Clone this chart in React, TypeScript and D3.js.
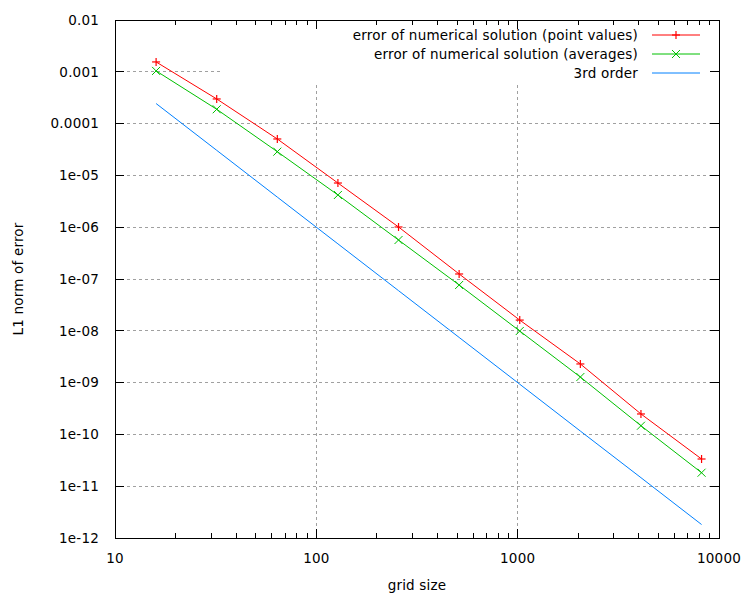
import * as d3 from 'd3'

// grid sizes and measured L1 errors
const gridSizes = [16, 32, 64, 128, 256, 512, 1024, 2048, 4096, 8192]
const errPoint = [1.55e-3, 2.99e-4, 5.05e-5, 7.13e-6, 1.01e-6, 1.25e-7, 1.61e-8, 2.29e-9, 2.48e-10, 3.35e-11]
const errAvg = [1.04e-3, 1.89e-4, 2.87e-5, 4.19e-6, 5.66e-7, 7.66e-8, 9.9e-9, 1.28e-9, 1.47e-10, 1.82e-11]
const thirdOrder = [2.44e-4, 3.05e-5, 3.81e-6, 4.77e-7, 5.96e-8, 7.45e-9, 9.31e-10, 1.16e-10, 1.46e-11, 1.82e-12]

const xTicks = [10, 100, 1000, 10000]
const xTickLabels = ['10', '100', '1000', '10000']
const yTicks = [1e-2, 1e-3, 1e-4, 1e-5, 1e-6, 1e-7, 1e-8, 1e-9, 1e-10, 1e-11, 1e-12]
const yTickLabels = ['0.01', '0.001', '0.0001', '1e-05', '1e-06', '1e-07', '1e-08', '1e-09', '1e-10', '1e-11', '1e-12']

const seriesNames = [
  'error of numerical solution (point values)',
  'error of numerical solution (averages)',
  '3rd order',
]

const W = 750
const H = 600
const L = 115
const R = 719
const T = 20
const B = 538
const FONT = '"DejaVu Sans", sans-serif'
const FS = 13.5
const LS = 0.2

const RED = '#ff0000'
const GREEN = '#00c000'
const BLUE = '#0080ff'
const GRID = '#a0a0a0'

export default function App() {
  const x = d3.scaleLog().domain([10, 10000]).range([L, R])
  const y = d3.scaleLog().domain([1e-12, 1e-2]).range([B, T])

  const minorX: number[] = []
  for (const dec of [10, 100, 1000]) for (let k = 2; k <= 9; k++) minorX.push(dec * k)

  const line = d3.line<[number, number]>().x(d => x(d[0])).y(d => y(d[1]))
  const pts = (vals: number[]) => gridSizes.map((n, i) => [n, vals[i]] as [number, number])

  // key box clears the grid behind it
  const keyLeft = 222
  const keyBottom = 82
  const keyTextX = 638
  const keyLine = [652, 700]
  const keyRows = [35, 54, 73]

  const plus = (cx: number, cy: number, c: string, k: string) => (
    <g key={k} stroke={c} strokeWidth={1.2}>
      <line x1={cx - 4} x2={cx + 4} y1={cy} y2={cy} />
      <line x1={cx} x2={cx} y1={cy - 4} y2={cy + 4} />
    </g>
  )
  const cross = (cx: number, cy: number, c: string, k: string) => (
    <g key={k} stroke={c} strokeWidth={1}>
      <line x1={cx - 4} x2={cx + 4} y1={cy - 4} y2={cy + 4} />
      <line x1={cx - 4} x2={cx + 4} y1={cy + 4} y2={cy - 4} />
    </g>
  )

  return (
    <div style={{ position: 'absolute', left: 0, top: 0 }}>
      <svg width={W} height={H} style={{ display: 'block', background: '#fff' }} fontFamily={FONT}>
        {/* grid */}
        <g stroke={GRID} strokeWidth={1} strokeDasharray="3,3" shapeRendering="crispEdges">
          {xTicks.slice(1, -1).map(t => (
            <line key={t} x1={x(t)} x2={x(t)} y1={B} y2={T} />
          ))}
          {yTicks.slice(1, -1).map(t => (
            <line key={t} x1={L} x2={R} y1={y(t)} y2={y(t)} />
          ))}
        </g>
        <rect x={keyLeft} y={T + 1} width={R - keyLeft - 1} height={keyBottom - T - 1} fill="#fff" />

        {/* series */}
        <path d={line(pts(thirdOrder)) ?? ''} fill="none" stroke={BLUE} strokeWidth={1} />
        <path d={line(pts(errAvg)) ?? ''} fill="none" stroke={GREEN} strokeWidth={1} />
        <path d={line(pts(errPoint)) ?? ''} fill="none" stroke={RED} strokeWidth={1} />
        {gridSizes.map((n, i) => cross(x(n), y(errAvg[i]), GREEN, 'g' + i))}
        {gridSizes.map((n, i) => plus(x(n), y(errPoint[i]), RED, 'r' + i))}

        {/* border and ticks */}
        <g stroke="#000" strokeWidth={1} shapeRendering="crispEdges">
          <rect x={L} y={T} width={R - L} height={B - T} fill="none" />
          {xTicks.map(t => (
            <g key={t}>
              <line x1={x(t)} x2={x(t)} y1={B} y2={B - 9} />
              <line x1={x(t)} x2={x(t)} y1={T} y2={T + 9} />
            </g>
          ))}
          {minorX.map(t => (
            <g key={t}>
              <line x1={x(t)} x2={x(t)} y1={B} y2={B - 5} />
              <line x1={x(t)} x2={x(t)} y1={T} y2={T + 5} />
            </g>
          ))}
          {yTicks.map(t => (
            <g key={t}>
              <line x1={L} x2={L + 9} y1={y(t)} y2={y(t)} />
              <line x1={R} x2={R - 9} y1={y(t)} y2={y(t)} />
            </g>
          ))}
        </g>

        {/* tick labels */}
        <g fontSize={FS} letterSpacing={LS} fill="#000">
          {yTicks.map((t, i) => (
            <text key={t} x={L - 16} y={y(t)} dy="0.35em" textAnchor="end">{yTickLabels[i]}</text>
          ))}
          {xTicks.map((t, i) => (
            <text key={t} x={x(t)} y={B + 20} dy="0.35em" textAnchor="middle">{xTickLabels[i]}</text>
          ))}
          <text x={(L + R) / 2} y={585} dy="0.35em" textAnchor="middle">grid size</text>
          <text transform={`translate(18,${(T + B) / 2}) rotate(-90)`} dy="0.35em" textAnchor="middle">L1 norm of error</text>
        </g>

        {/* key */}
        <g fontSize={FS} letterSpacing={LS}>
          {seriesNames.map((s, i) => (
            <text key={s} x={keyTextX} y={keyRows[i]} dy="0.35em" textAnchor="end">{s}</text>
          ))}
          <line x1={keyLine[0]} x2={keyLine[1]} y1={keyRows[0]} y2={keyRows[0]} stroke={RED} />
          {plus((keyLine[0] + keyLine[1]) / 2, keyRows[0], RED, 'kr')}
          <line x1={keyLine[0]} x2={keyLine[1]} y1={keyRows[1]} y2={keyRows[1]} stroke={GREEN} />
          {cross((keyLine[0] + keyLine[1]) / 2, keyRows[1], GREEN, 'kg')}
          <line x1={keyLine[0]} x2={keyLine[1]} y1={keyRows[2]} y2={keyRows[2]} stroke={BLUE} />
        </g>
      </svg>
    </div>
  )
}
